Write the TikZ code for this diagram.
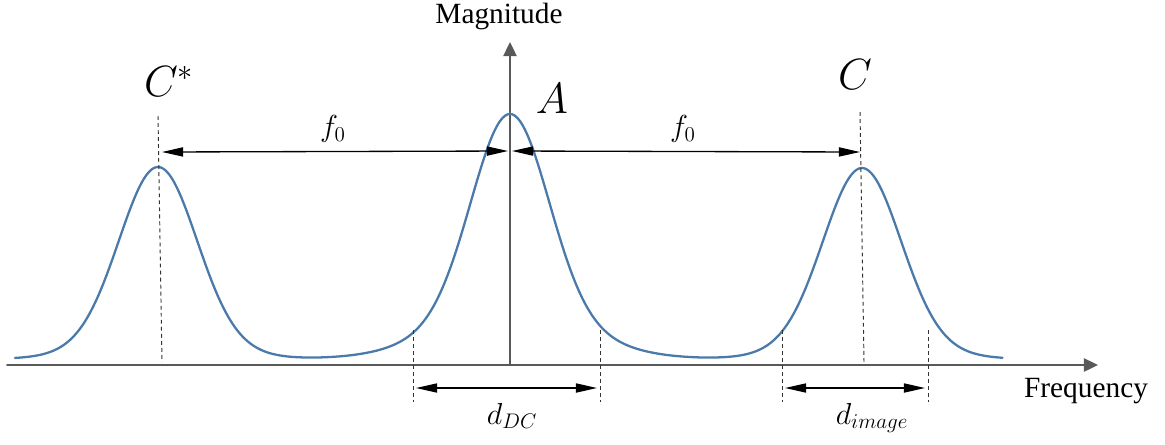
\documentclass[tikz,border=0pt]{standalone}
\usepackage{fontspec}
\setmainfont{Liberation Serif}
\usetikzlibrary{arrows.meta}
\begin{document}
\begin{tikzpicture}[x=2cm, y=-2cm, line cap=round, line join=round,
  declare function={bump(\u,\c,\k)=exp(-min((\u-\c)*(\u-\c)/\k,12));},
  axis/.style={axisgray, line width=1.1pt, -{Triangle[length=8pt,width=7.5pt]}},
  span/.style={line width=0.75pt, {Triangle[length=12pt,width=5.2pt]}-{Triangle[length=12pt,width=5.2pt]}},
  guide/.style={black!80, line width=0.55pt, line cap=butt, dash pattern=on 2.2pt off 1.8pt},
  word/.style={font=\fontsize{16.7}{19}\selectfont},
  bigmath/.style={font=\fontsize{25}{29}\selectfont},
  smallmath/.style={font=\fontsize{17.5}{20}\selectfont}]
  \definecolor{peakblue}{RGB}{74,122,170}
  \definecolor{axisgray}{RGB}{89,89,89}
  \useasboundingbox (0,0) rectangle (11.65,4.44);
  % axes
  \coordinate (O) at (5.10,3.65);
  \coordinate (xstart) at (0.07,3.65);
  \coordinate (xend) at (10.98,3.65);
  \coordinate (ytop) at (5.10,0.42);
  \draw[axis] (xstart) -- (xend);
  \draw[axis] (O) -- (ytop);
  \node[word] (mag) at (4.99,0.16) {Magnitude};
  \node[word] (freq) at (10.86,3.91) {Frequency};
  % spectrum
  \draw[peakblue, line width=1.3pt] plot[domain=0.15:10.03, samples=400, smooth]
    (\x, {3.59 - 1.92*(0.85*bump(\x,1.58,0.2888) + 0.15*bump(\x,1.58,0.6))
      - 2.45*(0.8*bump(\x,5.10,0.2888) + 0.2*bump(\x,5.10,0.98))
      - 1.91*(0.85*bump(\x,8.62,0.2888) + 0.15*bump(\x,8.62,0.6))});
  % peak centres
  \coordinate (cstarT) at (1.58,1.16);
  \coordinate (cstarB) at (1.62,3.62);
  \coordinate (cT) at (8.60,1.12);
  \coordinate (cB) at (8.64,3.62);
  \draw[guide] (cstarT) -- (cstarB);
  \draw[guide] (cT) -- (cB);
  \node[bigmath] (cstar) at (1.69,0.81) {$C^*$};
  \node[bigmath] (a) at (5.52,0.99) {$A$};
  \node[bigmath] (c) at (8.55,0.75) {$C$};
  % offsets f0
  \coordinate (fL1) at (1.62,1.52);
  \coordinate (fL2) at (5.08,1.51);
  \coordinate (fR1) at (5.12,1.51);
  \coordinate (fR2) at (8.60,1.52);
  \draw[span] (fL1) -- (fL2);
  \draw[span] (fR1) -- (fR2);
  \node[smallmath] (f1) at (3.33,1.29) {$f_0$};
  \node[smallmath] (f2) at (6.83,1.29) {$f_0$};
  % widths
  \foreach \name/\xx in {dc1/4.13, dc2/6.00, im1/7.82, im2/9.28}{
    \coordinate (\name T) at (\xx,3.30);
    \coordinate (\name B) at (\xx,4.02);
    \draw[guide] (\name T) -- (\name B);
  }
  \coordinate (dcL) at (4.16,3.88);
  \coordinate (dcR) at (5.97,3.88);
  \coordinate (imL) at (7.85,3.88);
  \coordinate (imR) at (9.25,3.88);
  \draw[span] (dcL) -- (dcR);
  \draw[span] (imL) -- (imR);
  \node[smallmath] (ddc) at (5.12,4.16) {$d_{DC}$};
  \node[smallmath] (dim) at (8.72,4.18) {$d_{image}$};
\end{tikzpicture}
\end{document}
